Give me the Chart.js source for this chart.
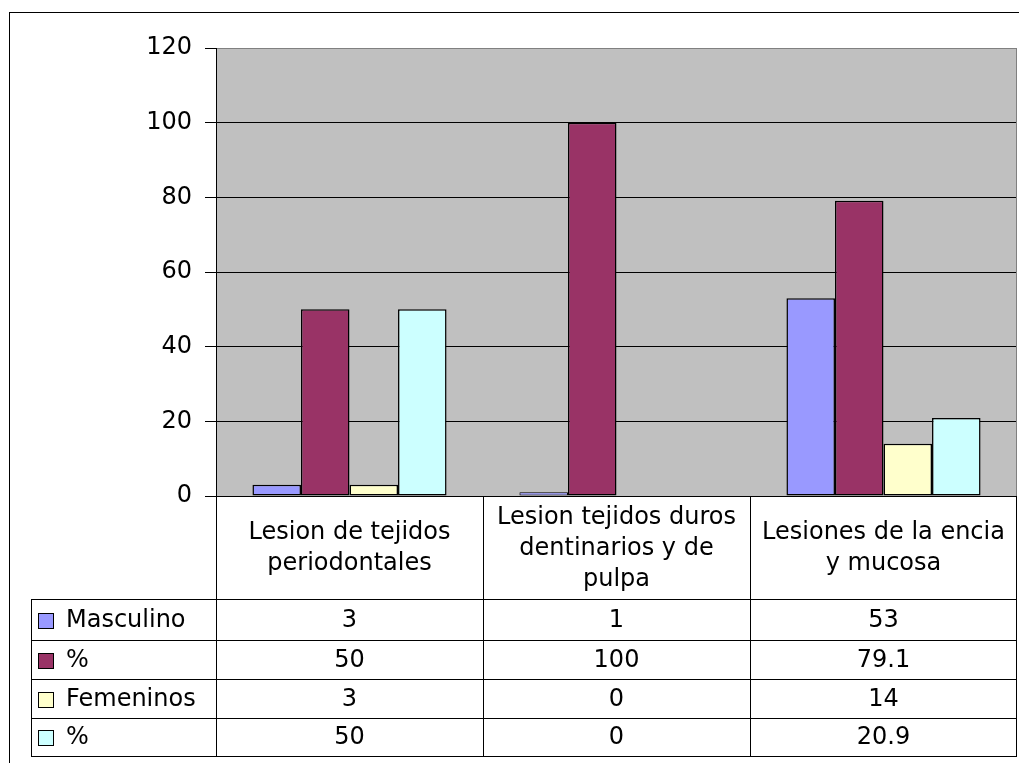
<!DOCTYPE html>
<html>
<head>
<meta charset="utf-8">
<script src="https://cdn.jsdelivr.net/npm/chart.js@4.4.1/dist/chart.umd.min.js"></script>
<style>
  html, body { margin: 0; padding: 0; background: #fff; }
  canvas { display: block; }
</style>
</head>
<body>
<canvas id="chart" width="1019" height="763"></canvas>
<script>
// Categories (header of the data table, one entry per line)
const categories = [
  ['Lesion de tejidos', 'periodontales'],
  ['Lesion tejidos duros', 'dentinarios y de', 'pulpa'],
  ['Lesiones de la encia', 'y mucosa']
];

// Series
const seriesNames = ['Masculino', '%', 'Femeninos', '%'];
const masculino    = [3, 1, 53];
const masculinoPct = [50, 100, 79.1];
const femeninos    = [3, 0, 14];
const femeninosPct = [50, 0, 20.9];

// Value axis
const yMin = 0;
const yMax = 120;
const yStep = 20;

const seriesColors = ['#9999FF', '#993366', '#FFFFCC', '#CCFFFF'];
const seriesValues = [masculino, masculinoPct, femeninos, femeninosPct];

const FONT_FAMILY = '"DejaVu Sans", "Liberation Sans", Arial, sans-serif';
const FONT_SIZE = 24;

// Plot background, outer frame and the data table under the chart
const frameAndTable = {
  id: 'frameAndTable',
  beforeDraw(chart) {
    const { ctx, chartArea: a } = chart;
    ctx.save();
    ctx.fillStyle = '#C0C0C0';
    ctx.fillRect(a.left, a.top, a.right - a.left, a.bottom - a.top);
    ctx.strokeStyle = '#000';
    ctx.lineWidth = 1;
    ctx.strokeRect(9.5, 12.5, 1200, 1000);
    ctx.restore();
  },
  afterDraw(chart) {
    const { ctx, chartArea: a } = chart;
    const xs = chart.scales.x;
    const n = categories.length;
    const colW = (a.right - a.left) / n;
    const headerTop = a.bottom;
    const headerBottom = 599;
    const rowEdges = [headerBottom, 640, 679, 718, 756];
    const legendLeft = 31;
    const lineGap = 31;

    ctx.save();
    // right edge of plot area
    ctx.strokeStyle = '#808080';
    ctx.lineWidth = 1;
    ctx.beginPath();
    ctx.moveTo(Math.round(a.right) - 0.5, a.top);
    ctx.lineTo(Math.round(a.right) - 0.5, a.bottom);
    ctx.stroke();

    ctx.strokeStyle = '#000';
    ctx.beginPath();
    // vertical column lines
    for (let i = 0; i <= n; i++) {
      const x = Math.round(a.left + i * colW) - (i === n ? 0.5 : -0.5);
      ctx.moveTo(x, headerTop);
      ctx.lineTo(x, rowEdges[rowEdges.length - 1] + 0.5);
    }
    // legend column left edge
    ctx.moveTo(legendLeft + 0.5, headerBottom);
    ctx.lineTo(legendLeft + 0.5, rowEdges[rowEdges.length - 1] + 0.5);
    // horizontal row lines
    rowEdges.forEach(y => {
      ctx.moveTo(legendLeft, y + 0.5);
      ctx.lineTo(Math.round(a.right), y + 0.5);
    });
    ctx.stroke();

    ctx.fillStyle = '#000';
    ctx.font = FONT_SIZE + 'px ' + FONT_FAMILY;
    ctx.textBaseline = 'middle';
    ctx.textAlign = 'center';

    // header: category names
    const headMid = (headerTop + headerBottom) / 2 + 1;
    categories.forEach((lines, ci) => {
      const cx = xs.getPixelForValue(ci);
      lines.forEach((t, li) => {
        ctx.fillText(t, cx, headMid + (li - (lines.length - 1) / 2) * lineGap);
      });
    });

    // rows: legend key + values
    seriesValues.forEach((vals, si) => {
      const top = rowEdges[si];
      const bottom = rowEdges[si + 1];
      const mid = (top + bottom) / 2 + 1;
      ctx.fillStyle = seriesColors[si];
      ctx.fillRect(38, Math.round(mid - 8), 15, 15);
      ctx.strokeStyle = '#000';
      ctx.strokeRect(38.5, Math.round(mid - 8) + 0.5, 15, 15);
      ctx.fillStyle = '#000';
      ctx.textAlign = 'left';
      ctx.fillText(seriesNames[si], 66, mid);
      ctx.textAlign = 'center';
      vals.forEach((v, ci) => {
        ctx.fillText(String(v), xs.getPixelForValue(ci), mid);
      });
    });
    ctx.restore();
  }
};

// thin outline on very short bars so their fill stays visible
const barBorder = c => (c.raw === 0 ? 0 : c.raw < 2 ? 1 : 1.5);

const datasets = seriesNames.map((name, i) => ({
  label: name,
  data: seriesValues[i],
  backgroundColor: seriesColors[i],
  borderColor: '#000',
  borderWidth: barBorder,
  borderSkipped: false
}));

new Chart(document.getElementById('chart'), {
  type: 'bar',
  data: { labels: categories.map(c => c.join(' ')), datasets },
  options: {
    responsive: false,
    devicePixelRatio: 1,
    animation: false,
    layout: { padding: { left: 0, right: 2, top: 48, bottom: 267 } },
    datasets: { bar: { categoryPercentage: 0.727, barPercentage: 1 } },
    plugins: { legend: { display: false }, tooltip: { enabled: false } },
    scales: {
      x: { display: false },
      y: {
        min: yMin,
        max: yMax,
        afterFit(scale) { scale.width = 216; },
        ticks: {
          stepSize: yStep,
          color: '#000',
          padding: 13,
          font: { family: FONT_FAMILY, size: FONT_SIZE }
        },
        grid: {
          color: c => (c.tick && c.tick.value === yMax ? '#808080' : '#000'),
          lineWidth: 1,
          tickLength: 11,
          tickColor: '#000'
        },
        border: { display: true, color: '#000', width: 1 }
      }
    }
  },
  plugins: [frameAndTable]
});
</script>
</body>
</html>
